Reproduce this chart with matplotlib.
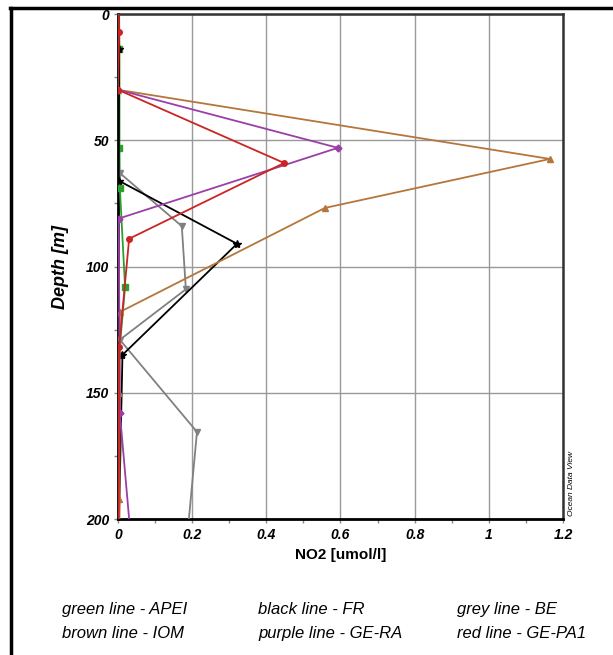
#!/usr/bin/env python3
"""NO2 depth profiles for six stations (Ocean Data View style)."""

import matplotlib
matplotlib.use("Agg")
import matplotlib.pyplot as plt
from matplotlib.lines import Line2D

# depth [m] and NO2 [umol/l] per station
apei_depth = [0, 14, 53, 69, 108, 135, 205]
apei_no2 = [0.003, 0.004, 0.004, 0.005, 0.019, 0.003, 0.002]

iom_depth = [30, 57.4, 76.8, 118, 150, 192, 205]
iom_no2 = [0.0, 1.165, 0.558, 0.005, 0.004, 0.004, 0.004]

fr_depth = [0, 14, 66, 91, 135, 205]
fr_no2 = [0.002, 0.003, 0.002, 0.321, 0.012, 0.002]

ra_depth = [30, 53, 81, 158, 205]
ra_no2 = [0.0, 0.593, 0.002, 0.005, 0.033]

be_depth = [63, 84, 109, 129, 165.5, 205]
be_no2 = [0.005, 0.172, 0.183, 0.005, 0.213, 0.188]

pa1_depth = [0, 7, 30, 59, 89, 132, 205]
pa1_no2 = [0.002, 0.003, 0.0, 0.448, 0.03, 0.003, 0.002]

legend_rows = [
    ["green line - APEI", "black line - FR", "grey line - BE"],
    ["brown line - IOM", "purple line - GE-RA", "red line - GE-PA1"],
]

fig = plt.figure(figsize=(6.13, 6.55), dpi=100)
ax = fig.add_axes([0.1925, 0.2076, 0.7259, 0.771])

# x, y, colour, marker, marker size, which samples carry a marker
series = [
    (apei_no2, apei_depth, "#2ca02c", "s", 4, [1, 2, 3, 4, 5]),
    (be_no2, be_depth, "#808080", "v", 5, [0, 1, 2, 3, 4]),
    (fr_no2, fr_depth, "black", "*", 6, [1, 2, 3, 4]),
    (iom_no2, iom_depth, "#b5763c", "^", 4, [0, 1, 2, 3, 4, 5]),
    (ra_no2, ra_depth, "#9b3fa6", "D", 3.5, [0, 1, 2, 3]),
    (pa1_no2, pa1_depth, "#cc2424", "o", 4, [1, 2, 3, 4, 5]),
]
for x, y, color, marker, size, marks in series:
    ax.plot(x, y, color=color, lw=1.3, marker=marker, markersize=size,
            markevery=marks, zorder=3)

ax.set_xlim(0, 1.2)
ax.set_ylim(200, 0)
ax.set_xticks([0, 0.2, 0.4, 0.6, 0.8, 1.0, 1.2])
ax.set_xticklabels(["0", "0.2", "0.4", "0.6", "0.8", "1", "1.2"])
ax.set_xticks([0.1, 0.3, 0.5, 0.7, 0.9, 1.1], minor=True)
ax.set_yticks([0, 50, 100, 150, 200])
ax.set_yticks([25, 75, 125, 175], minor=True)
ax.grid(True, which="major", color="#999999", lw=1)
ax.tick_params(which="both", direction="out", length=3, color="#888888", width=1)
for lab in ax.get_xticklabels() + ax.get_yticklabels():
    lab.set_fontfamily("Liberation Sans")
    lab.set_fontweight("bold")
    lab.set_fontstyle("italic")
    lab.set_fontsize(10)
for side in ["left", "bottom"]:
    ax.spines[side].set_linewidth(2)
    ax.spines[side].set_color("black")
for side in ["top", "right"]:
    ax.spines[side].set_linewidth(1.8)
    ax.spines[side].set_color("#333333")

ax.set_ylabel("Depth [m]", family="Liberation Sans", style="italic", weight="bold",
              fontsize=13, labelpad=12)
ax.set_xlabel("NO2 [umol/l]", family="Liberation Sans", weight="bold", fontsize=11, labelpad=4)

fig.text(0.933, 0.262, "Ocean Data View", rotation=90, fontsize=6, style="italic",
         family="Liberation Sans", ha="center", va="center")

# outer frame: top and left edges only
fig.add_artist(Line2D([0.0165, 1.0], [0.988, 0.988], color="black", lw=2.5, transform=fig.transFigure))
fig.add_artist(Line2D([0.0179, 0.0179], [0.0, 0.988], color="black", lw=2.5, transform=fig.transFigure))

col_x = [0.101, 0.421, 0.746]
row_y = [0.070, 0.033]
for r, row in enumerate(legend_rows):
    for c, txt in enumerate(row):
        fig.text(col_x[c], row_y[r], txt, family="Liberation Sans", style="italic",
                 fontsize=12, ha="left", va="center")

fig.savefig("out.png", dpi=100)
